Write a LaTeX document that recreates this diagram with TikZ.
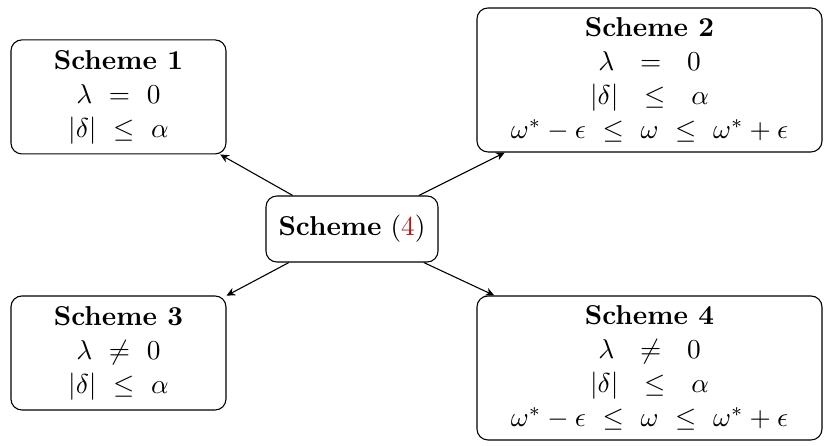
\documentclass[tikz,border=0pt]{standalone}
\usepackage{amsmath}
\usepackage{xcolor}
\usepackage{tikz}
\usetikzlibrary{arrows.meta,positioning}
\definecolor{SchemeRef}{HTML}{A81C1C}

\begin{document}
\begin{tikzpicture}[x=1cm,y=1cm,
  scheme/.style={draw,rounded corners=4pt,align=center,inner sep=3pt},
  link/.style={-{Stealth[length=3.2pt,width=3pt]}}]
\useasboundingbox (0,0) rectangle (10.60,5.737);
\node[scheme,minimum width=2.213cm,minimum height=.849cm] (main) at (4.528,2.791) {\textbf{Scheme} (\textcolor{SchemeRef}{4})};
\node[scheme,minimum width=2.766cm,minimum height=1.467cm] (s1) at (1.524,4.49) {\textbf{Scheme 1}\\[.45pt] $\lambda~=~0$\\[.45pt] $|\delta|~\leq~\alpha$};
\node[scheme,minimum width=4.438cm,minimum height=1.852cm] (s2) at (8.355,4.708) {\textbf{Scheme 2}\\[.45pt] $\lambda\ \ =\ \ 0$\\[.45pt] $|\delta|\ \ \leq\ \ \alpha$\\[.45pt] $\omega^*-\epsilon~\leq~\omega~\leq~\omega^*+\epsilon$};
\node[scheme,minimum width=2.766cm,minimum height=1.467cm] (s3) at (1.524,1.196) {\textbf{Scheme 3}\\[.45pt] $\lambda~\neq~0$\\[.45pt] $|\delta|~\leq~\alpha$};
\node[scheme,minimum width=4.438cm,minimum height=1.852cm] (s4) at (8.355,1.003) {\textbf{Scheme 4}\\[.45pt] $\lambda\ \ \neq\ \ 0$\\[.45pt] $|\delta|\ \ \leq\ \ \alpha$\\[.45pt] $\omega^*-\epsilon~\leq~\omega~\leq~\omega^*+\epsilon$};
\draw[link] (main)--(s1);\draw[link] (main)--(s2);
\draw[link] (main)--(s3);\draw[link] (main)--(s4);
\end{tikzpicture}
\end{document}
